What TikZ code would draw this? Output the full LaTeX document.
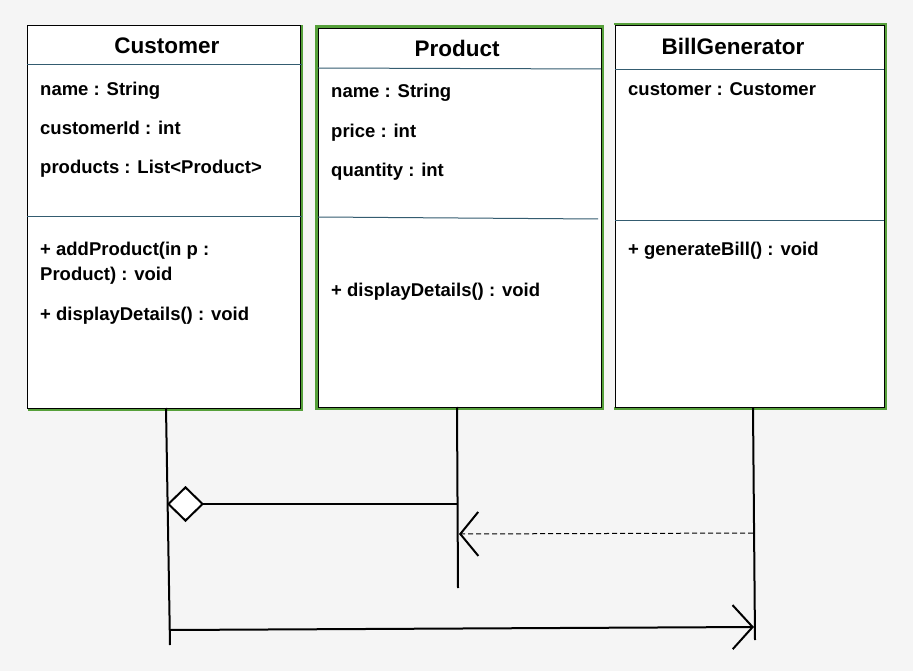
\documentclass[tikz,border=0pt]{standalone}
\usepackage{fontspec}
\setmainfont{Liberation Sans}
\usetikzlibrary{arrows.meta}
\definecolor{bg}{RGB}{245,245,245}
\definecolor{divc}{RGB}{52,92,112}
\definecolor{grn}{RGB}{86,160,58}
\begin{document}
\begin{tikzpicture}[x=1pt,y=-1pt,
  classbox/.style={draw=black,line width=1.3pt,fill=white,anchor=north west,inner sep=0pt},
  greenedge/.style={draw=grn,line width=2.2pt},
  divider/.style={draw=divc,line width=1pt},
  title/.style={font=\bfseries\fontsize{22.5}{26}\selectfont,anchor=base,inner sep=0pt},
  member/.style={font=\bfseries\fontsize{18.5}{22}\selectfont,anchor=base west,inner sep=0pt},
  conn/.style={draw=black,line width=2pt},
  dep/.style={draw=black,line width=1pt,dash pattern=on 5pt off 3pt},
  vtip/.style={-{Straight Barb[length=20pt,width=44pt,line width=2pt]}}
]
\useasboundingbox[fill=bg] (0,0) rectangle (913,671);

% green outer edges
\draw[greenedge] (28,26) -- (301.5,26) -- (301.5,409.5) -- (28,409.5);
\draw[greenedge] (316.5,26.5) rectangle (602.5,408.5);
\draw[greenedge] (614,24) -- (885.5,24) -- (885.5,408.5) -- (614,408.5);

% Customer
\node[classbox,minimum width=273pt,minimum height=383pt] (cust) at (27,25) {};
\draw[divider] (27,65) -- (302,65);
\draw[divider] (27,217) -- (302,217);
\node[title] (custT) at (167,54) {Customer};
\node[member] (c1) at (40,96) {name : String};
\node[member] (c2) at (40,135) {customerId : int};
\node[member] (c3) at (40,174) {products : List<Product>};
\node[member] (c4) at (40,255) {+ addProduct(in p :};
\node[member] (c5) at (40,280) {Product) : void};
\node[member] (c6) at (40,320) {+ displayDetails() : void};

% Product
\node[classbox,minimum width=283pt,minimum height=379pt] (prod) at (318,28) {};
\draw[divider] (318,68) -- (601,69);
\draw[divider] (318,217) -- (598,219);
\node[title] (prodT) at (457,57) {Product};
\node[member] (p1) at (331,98) {name : String};
\node[member] (p2) at (331,138) {price : int};
\node[member] (p3) at (331,177) {quantity : int};
\node[member] (p4) at (331,296) {+ displayDetails() : void};

% BillGenerator
\node[classbox,minimum width=269pt,minimum height=382pt] (bill) at (615,25) {};
\draw[divider] (615,70) -- (884,70);
\draw[divider] (615,221) -- (884,221);
\node[title] (billT) at (733,55) {BillGenerator};
\node[member] (b1) at (628,96) {customer : Customer};
\node[member] (b2) at (628,255) {+ generateBill() : void};

% lifelines
\coordinate (cTop) at (166,408);
\coordinate (cBot) at (170,645);
\coordinate (pTop) at (457,407);
\coordinate (pBot) at (458,588);
\coordinate (bTop) at (753,408);
\coordinate (bBot) at (755,640);
\draw[conn] (cTop) -- (cBot);
\draw[conn] (pTop) -- (pBot);
\draw[conn] (bTop) -- (bBot);

% aggregation
\coordinate (aggC) at (167,504);
\coordinate (aggP) at (457,504);
\draw[conn,{Diamond[open,fill=white,length=37pt,width=36pt,line width=2pt]}-] (aggC) -- (aggP);

% dependency
\coordinate (depB) at (753,533);
\coordinate (depP) at (459,534);
\draw[dep,-{Straight Barb[length=18pt,width=44pt,line width=2pt]}] (depB) -- (depP);

% association
\coordinate (asC) at (170,630);
\coordinate (asB) at (754,627);
\draw[conn,vtip] (asC) -- (asB);
\end{tikzpicture}
\end{document}
